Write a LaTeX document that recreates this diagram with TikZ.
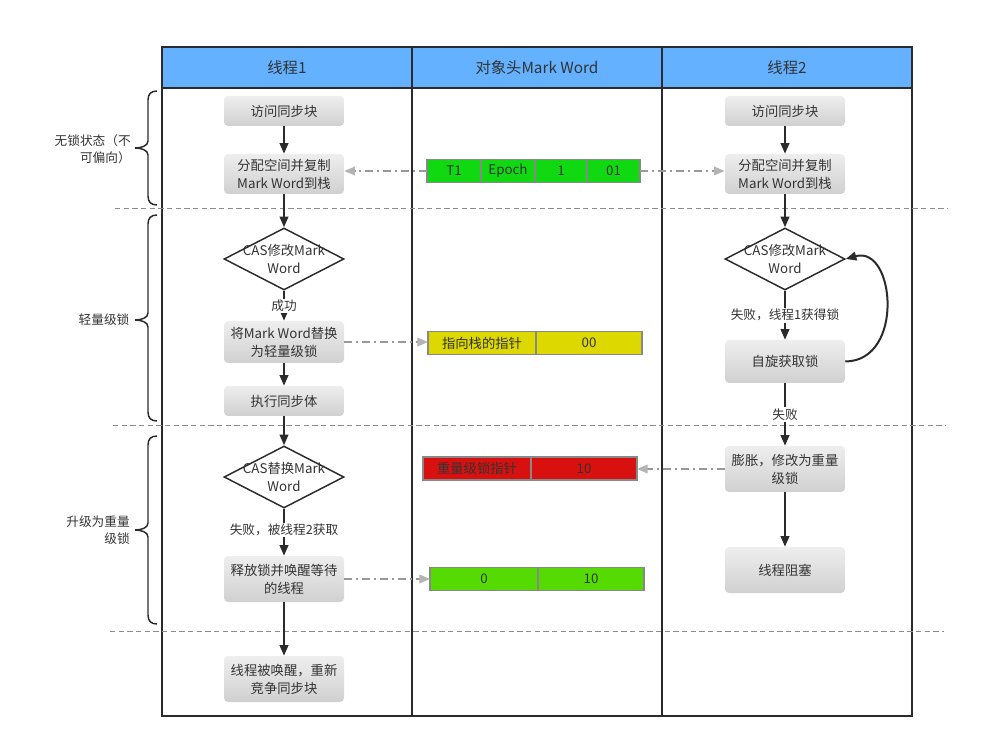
\documentclass[tikz,border=0pt]{standalone}
\usepackage{fontspec}
\setmainfont{Noto Sans CJK SC}
\usetikzlibrary{arrows.meta,shapes.geometric}
\definecolor{txt}{HTML}{333333}
\definecolor{dark}{HTML}{2B2B2B}
\definecolor{hdr}{HTML}{63B1FF}
\definecolor{boxtop}{HTML}{EEEEEE}
\definecolor{boxbot}{HTML}{D0D0D0}
\definecolor{cellb}{HTML}{888888}
\definecolor{ddgray}{HTML}{999999}
\definecolor{arrgray}{HTML}{B4B4B4}
\definecolor{sepgray}{HTML}{8C8C8C}
\definecolor{gA}{HTML}{11D911}
\definecolor{yA}{HTML}{DDD800}
\definecolor{rA}{HTML}{D91010}
\definecolor{gB}{HTML}{55DB00}
\begin{document}
\begin{tikzpicture}[x=0.75pt,y=-0.75pt,
  font=\fontsize{10}{13.5}\selectfont, text=txt,
  box/.style={rectangle, rounded corners=3pt, top color=boxtop, bottom color=boxbot,
    minimum width=90pt, align=center, inner sep=1pt, text=txt},
  dia/.style={diamond, draw=dark, line width=1.1pt, fill=white,
    minimum width=90pt, minimum height=46.5pt, inner sep=0pt},
  diatext/.style={align=center, inner sep=0pt, font=\fontsize{10}{13.5}\selectfont},
  cell/.style={rectangle, draw=cellb, line width=1.1pt, minimum height=17.25pt,
    inner sep=0pt, outer sep=0pt},
  arr/.style={draw=dark, line width=1.5pt, -{Triangle[length=8pt,width=6.5pt]}},
  dda/.style={draw=ddgray, line width=1.1pt, dash pattern=on 6pt off 3pt on 1.5pt off 3pt,
    -{Triangle[length=8pt,width=6.5pt,fill=arrgray,color=arrgray]}},
  sep/.style={draw=sepgray, line width=0.75pt, dash pattern=on 4pt off 2.5pt},
  lbl/.style={fill=white, inner sep=1pt, font=\fontsize{9.5}{12}\selectfont},
  side/.style={align=right, inner sep=0pt, font=\fontsize{9.5}{12.5}\selectfont},
  brace/.style={draw=dark, line width=1.1pt},
  head/.style={font=\fontsize{11.5}{14}\selectfont}
]
\useasboundingbox (0,0) rectangle (982,748);

% table
\fill[hdr] (162,47) rectangle (912,88);
\draw[dark, line width=1.5pt] (162,47) rectangle (912,716);
\draw[dark, line width=1.5pt] (162,88) -- (912,88);
\draw[dark, line width=1.5pt] (412,47) -- (412,716);
\draw[dark, line width=1.5pt] (662,47) -- (662,716);
\node[head] (h1) at (287,68) {线程1};
\node[head] (h2) at (537,68) {对象头Mark Word};
\node[head] (h3) at (787,68) {线程2};

% separators
\draw[sep] (115,209) -- (948,209);
\draw[sep] (113,426) -- (946,426);
\draw[sep] (110,631) -- (944,631);

% braces
\newcommand\sidebrace[3]{%
  \draw[brace] (157,#1) .. controls (151,#1) and (148,#1+3) .. (148,#1+9)
    -- (148,#2-7) .. controls (148,#2-2) and (141,#2) .. (135,#2)
    .. controls (141,#2) and (148,#2+2) .. (148,#2+7)
    -- (148,#3-9) .. controls (148,#3-3) and (151,#3) .. (157,#3);}
\sidebrace{91}{148}{205}
\sidebrace{215}{320}{421}
\sidebrace{436}{530}{624}
\node[side, anchor=east] (s1) at (131,149) {无锁状态（不\\可偏向）};
\node[side] (s2) at (104,320) {轻量级锁};
\node[side, anchor=east] (s3) at (130,530) {升级为重量\\级锁};

% left column
\node[box, minimum height=22.5pt] (a1) at (284,111) {访问同步块};
\node[box, minimum height=30pt] (a2) at (284,174) {分配空间并复制\\Mark Word到栈};
\node[dia] (a3) at (284,259) {};
\node[diatext] (a3t) at (284,259) {CAS修改Mark\\Word};
\node[box, minimum height=31.5pt] (a4) at (284,342) {将Mark Word替换\\为轻量级锁};
\node[box, minimum height=22.5pt] (a5) at (284,401) {执行同步体};
\node[dia] (a6) at (284,477) {};
\node[diatext] (a6t) at (284,477) {CAS替换Mark\\Word};
\node[box, minimum height=34.5pt] (a7) at (284,579) {释放锁并唤醒等待\\的线程};
\node[box, minimum height=34.5pt] (a8) at (284,679) {线程被唤醒，重新\\竞争同步块};

% right column
\node[box, minimum height=22.5pt] (b1) at (785,111) {访问同步块};
\node[box, minimum height=30pt] (b2) at (785,174) {分配空间并复制\\Mark Word到栈};
\node[dia] (b3) at (785,259) {};
\node[diatext] (b3t) at (785,259) {CAS修改Mark\\Word};
\node[box, minimum height=32.25pt] (b4) at (785,361.5) {自旋获取锁};
\node[box, minimum height=34.5pt] (b5) at (785,469) {膨胀，修改为重量\\级锁};
\node[box, minimum height=34.5pt] (b6) at (785,570) {线程阻塞};

% mark word bars
\node[cell, fill=gA, minimum width=40.5pt] (c11) at (454,171) {T1};
\node[cell, fill=gA, minimum width=40.5pt] (c12) at (508,171) {Epoch};
\node[cell, fill=gA, minimum width=39pt] (c13) at (561,171) {1};
\node[cell, fill=gA, minimum width=39.75pt] (c14) at (613.5,171) {01};

\node[cell, fill=yA, minimum width=81pt] (c21) at (482,343) {指向栈的指针};
\node[cell, fill=yA, minimum width=79.5pt] (c22) at (589,343) {00};

\node[cell, fill=rA, minimum width=81pt] (c31) at (477,468.5) {重量级锁指针};
\node[cell, fill=rA, minimum width=79.5pt] (c32) at (584,468.5) {10};

\node[cell, fill=gB, minimum width=81pt] (c41) at (484,579) {0};
\node[cell, fill=gB, minimum width=79.5pt] (c42) at (591,579) {10};

% left arrows
\draw[arr] (a1) -- (a2);
\draw[arr] (a2) -- (a3.north);
\draw[arr] (a3.south) -- node[lbl] (l1) {成功} (a4);
\draw[arr] (a4) -- (a5);
\draw[arr] (a5) -- (a6.north);
\draw[arr] (a6.south) -- node[lbl, pos=0.45] (l2) {失败，被线程2获取} (a7);
\draw[arr] (a7) -- (a8);

% right arrows
\draw[arr] (b1) -- (b2);
\draw[arr] (b2) -- (b3.north);
\draw[arr] (b3.south) -- node[lbl, pos=0.5] (l3) {失败，线程1获得锁} (b4);
\draw[arr] (b4) -- node[lbl, pos=0.5] (l4) {失败} (b5);
\draw[arr] (b5) -- (b6);
\draw[arr] (b4.east) .. controls (905,361) and (895,245) .. (b3.east);

% dash-dot arrows
\draw[dda] (c11.west) -- (c11.west -| a2.east);
\draw[dda] (c14.east) -- (c14.east -| b2.west);
\draw[dda] (a4.east) -- (a4.east -| c21.west);
\draw[dda] (b5.west) -- (b5.west -| c32.east);
\draw[dda] (a7.east) -- (a7.east -| c41.west);
\end{tikzpicture}
\end{document}
